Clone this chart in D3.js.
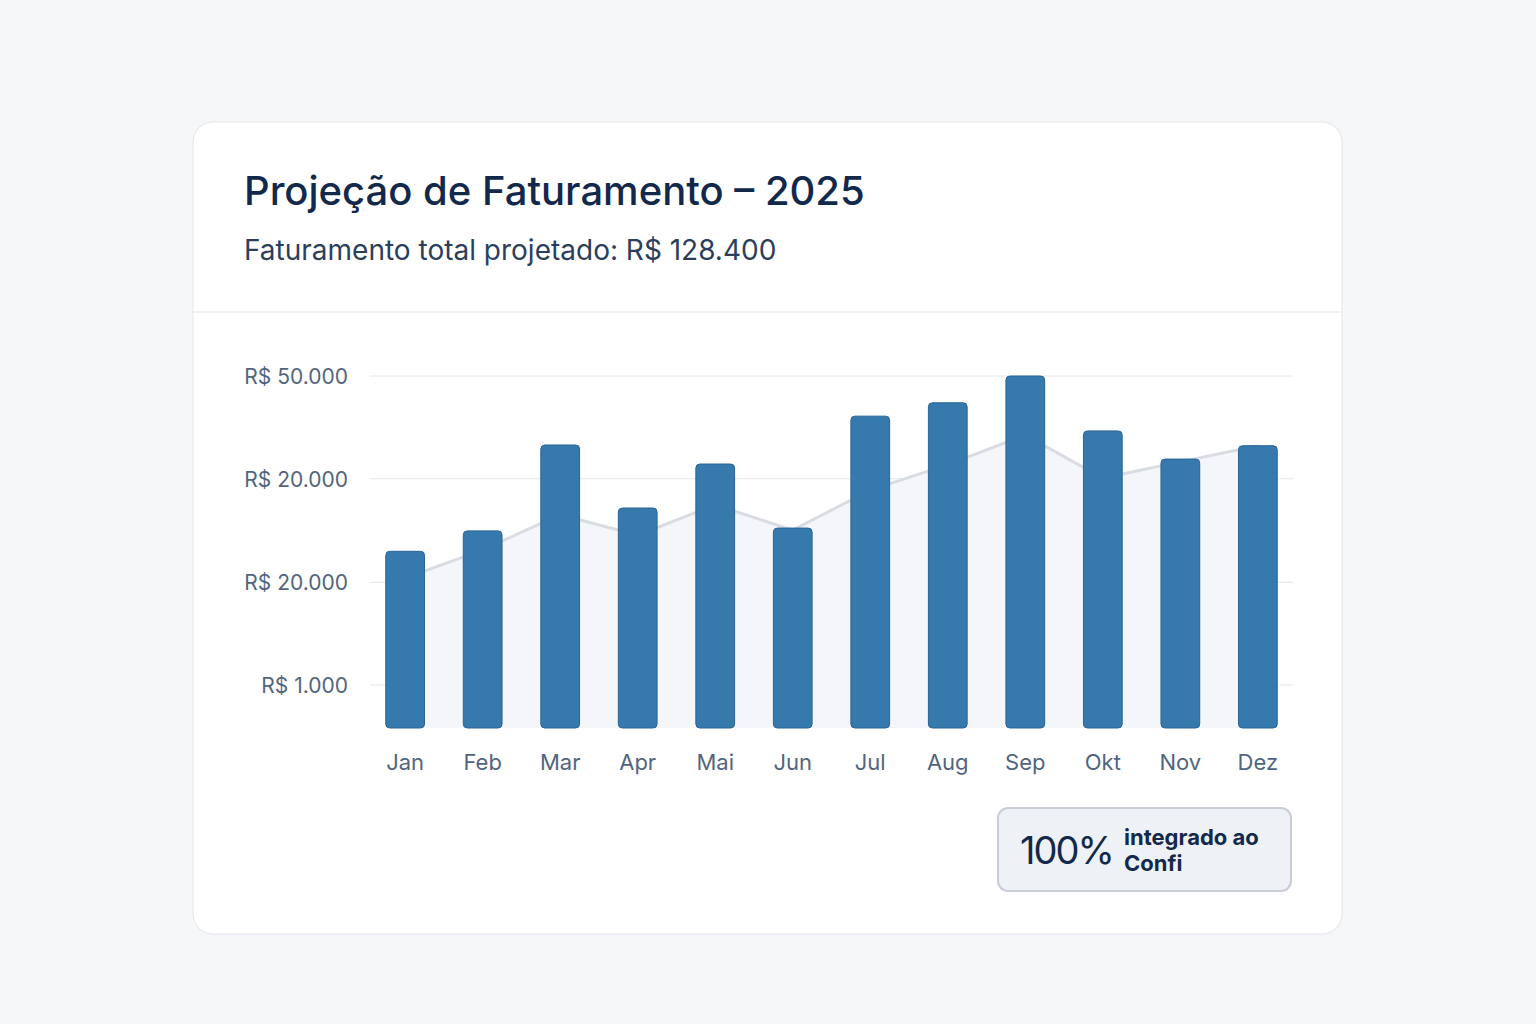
<!DOCTYPE html>
<html><head><meta charset="utf-8">
<script src="https://cdn.jsdelivr.net/npm/d3@7"></script>
<style>body{margin:0;background:#f6f7f9;font-family:Inter,"Noto Sans",sans-serif}</style>
</head><body>
<script>
// data
var months = ['Jan','Feb','Mar','Apr','Mai','Jun','Jul','Aug','Sep','Okt','Nov','Dez'];
var revenue = [25100, 28000, 40200, 31250, 37500, 28400, 44300, 46200, 50000, 42200, 38200, 40100];
var trend = [21300, 25300, 30300, 27400, 31700, 28100, 33800, 37400, 41600, 35500, 37800, 40100];
var tickValues = [6100, 20700, 35400, 50000];
var tickLabels = ['R$ 1.000', 'R$ 20.000', 'R$ 20.000', 'R$ 50.000'];

var svg = d3.select('body').append('svg').attr('width', 1536).attr('height', 1024);

svg.append('rect').attr('x', 193).attr('y', 122).attr('width', 1149).attr('height', 812)
  .attr('rx', 20).attr('fill', '#fff').attr('stroke', '#e2e5ea');
svg.append('line').attr('x1', 193).attr('x2', 1342).attr('y1', 312).attr('y2', 312).attr('stroke', '#e2e5ea');

svg.append('text').attr('x', 244).attr('y', 205).text('Projeção de Faturamento – 2025')
  .attr('font-size', 40).attr('font-weight', 500).attr('fill', '#13294b');
svg.append('text').attr('x', 244).attr('y', 260).text('Faturamento total projetado: R$ 128.400')
  .attr('font-size', 28).attr('fill', '#2b3f5c');

var x = d3.scaleBand().domain(months).range([347, 1316]).padding(0.5);
var y = d3.scaleLinear().domain([0, 50000]).range([728, 376]);

var g = svg.append('g');
g.selectAll('.grid').data(tickValues).enter().append('line')
  .attr('x1', 370).attr('x2', 1293)
  .attr('y1', function(d) { return y(d); }).attr('y2', function(d) { return y(d); })
  .attr('stroke', '#e3e6ea');
g.selectAll('.tick').data(tickValues).enter().append('text')
  .attr('x', 348).attr('y', function(d) { return y(d) + 8; }).attr('text-anchor', 'end')
  .attr('font-size', 21).attr('fill', '#52657e')
  .text(function(d, i) { return tickLabels[i]; });

var cx = function(d, i) { return x(months[i]) + x.bandwidth() / 2; };
g.append('path').datum(trend)
  .attr('d', d3.area().x(cx).y0(728).y1(function(d) { return y(d); }))
  .attr('fill', '#f5f6f9');
g.append('path').datum(trend)
  .attr('d', d3.line().x(cx).y(function(d) { return y(d); }))
  .attr('fill', 'none').attr('stroke', '#d9dde3').attr('stroke-width', 3);

g.selectAll('.bar').data(revenue).enter().append('rect')
  .attr('x', function(d, i) { return x(months[i]); })
  .attr('y', function(d) { return y(d); })
  .attr('width', x.bandwidth())
  .attr('height', function(d) { return 728 - y(d); })
  .attr('rx', 4).attr('fill', '#3679ad').attr('stroke', '#2a6497');

g.selectAll('.mlabel').data(months).enter().append('text')
  .attr('x', function(d) { return x(d) + x.bandwidth() / 2; }).attr('y', 770)
  .attr('text-anchor', 'middle').attr('font-size', 22).attr('fill', '#52657e')
  .text(function(d) { return d; });

svg.append('rect').attr('x', 998).attr('y', 808).attr('width', 293).attr('height', 83)
  .attr('rx', 10).attr('fill', '#eef1f5').attr('stroke', '#c9ced6').attr('stroke-width', 2);
svg.append('text').attr('x', 1020).attr('y', 864).text('100%')
  .attr('font-size', 38).attr('fill', '#13294b').attr('letter-spacing', -2);
svg.append('text').attr('x', 1124).attr('y', 845).text('integrado ao')
  .attr('font-size', 22).attr('font-weight', 700).attr('fill', '#13294b');
svg.append('text').attr('x', 1124).attr('y', 871).text('Confi')
  .attr('font-size', 22).attr('font-weight', 700).attr('fill', '#13294b');
</script>
</body></html>
